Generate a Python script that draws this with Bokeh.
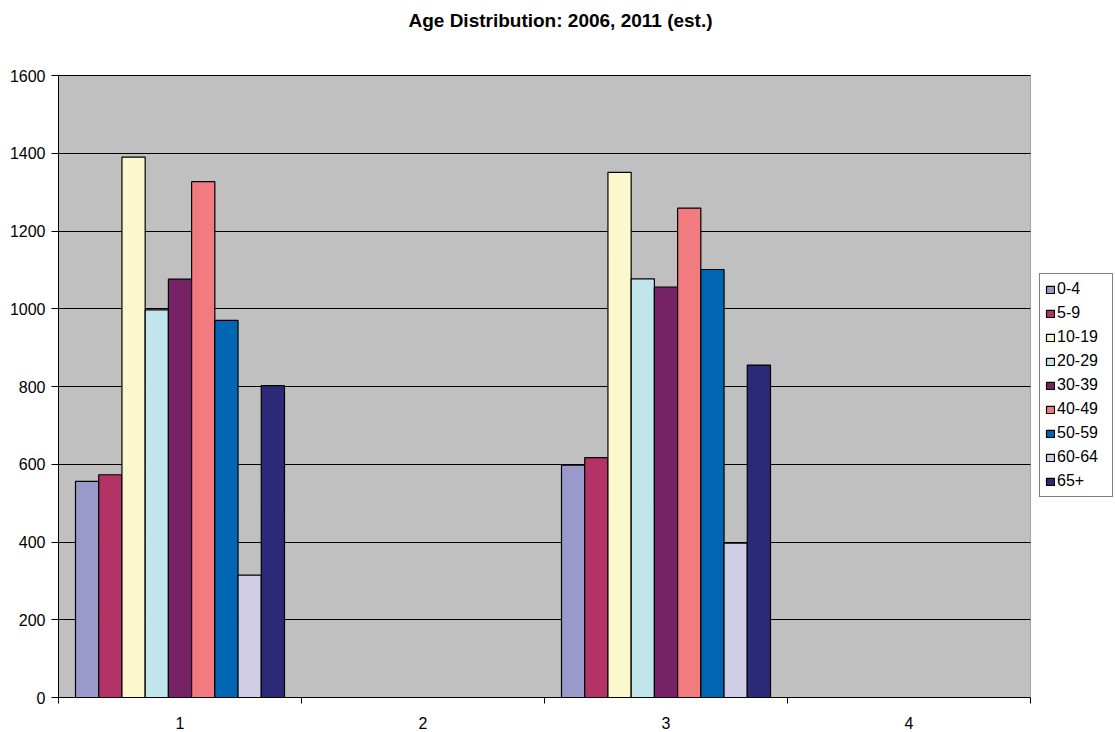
from bokeh.plotting import figure
from bokeh.models import (Range1d, FixedTicker, Legend, LegendItem, ColumnDataSource,
                          BoxAnnotation, Label)
from bokeh.transform import dodge
from bokeh.embed import file_html
from bokeh.resources import INLINE

# Category slots on the x axis (2 and 4 carry no data)
categories = [1, 2, 3, 4]
populated = [1, 3]

age_groups = ["0-4", "5-9", "10-19", "20-29", "30-39", "40-49", "50-59", "60-64", "65+"]
values_cat1 = [556, 573, 1390, 997, 1076, 1327, 970, 315, 802]
values_cat3 = [598, 617, 1351, 1077, 1056, 1259, 1101, 397, 855]

colors = ["#9999CC", "#B33366", "#FBF8CE", "#C0E6EC", "#772266",
          "#F27B80", "#0066B3", "#D0CDE6", "#2A2A78"]

y_ticks = [0, 200, 400, 600, 800, 1000, 1200, 1400, 1600]
title_text = "Age Distribution: 2006, 2011 (est.)"

FONT = "Liberation Sans"

# Plot area spans x 0.5..4.5 and y 0..1600; the canvas around it (title band on
# top, legend column on the right) is part of the same frame so that nothing is clipped.
X0, X1 = 0.5, 4.5
Y0, Y1 = 0, 1600
AREA_W, AREA_H = 972, 622
FRAME_W, FRAME_H = 1057, 697
x_end = X0 + (X1 - X0) * FRAME_W / AREA_W
y_end = Y0 + (Y1 - Y0) * FRAME_H / AREA_H

p = figure(frame_width=FRAME_W, frame_height=FRAME_H, output_backend="svg",
           toolbar_location=None, title=None,
           x_range=Range1d(X0, x_end), y_range=Range1d(Y0, y_end),
           min_border_left=58, min_border_right=0, min_border_top=0,
           min_border_bottom=35, background_fill_color="white",
           border_fill_color="white", outline_line_color=None)

# Gray plot area
p.add_layout(BoxAnnotation(left=X0, right=X1, bottom=Y0, top=Y1, fill_color="#C0C0C0",
                           fill_alpha=1.0, line_color=None, level="image"))

p.xgrid.grid_line_color = None
p.ygrid.ticker = FixedTicker(ticks=y_ticks)
p.ygrid.grid_line_color = "black"
p.ygrid.grid_line_width = 1

# Keep gridlines inside the plot area
p.add_layout(BoxAnnotation(left=X1, fill_color="white", fill_alpha=1.0,
                           line_color=None, level="underlay"))
# Plot area border
p.add_layout(BoxAnnotation(left=X0, right=X1, bottom=Y0, top=Y1, fill_alpha=0,
                           line_color="black", line_width=1, level="underlay"))

n = len(age_groups)
group_width = 0.86
bar_w = group_width / n

renderers = []
for i, (grp, col) in enumerate(zip(age_groups, colors)):
    src = ColumnDataSource(dict(x=populated, top=[values_cat1[i], values_cat3[i]]))
    offset = -group_width / 2 + bar_w * (i + 0.5)
    r = p.vbar(x=dodge("x", offset), top="top", bottom=0, width=bar_w, source=src,
               fill_color=col, line_color="black", line_width=1.2)
    renderers.append(r)

# Axes
p.xaxis.bounds = (X0, X1)
p.xaxis.ticker = FixedTicker(ticks=categories, minor_ticks=[0.5, 1.5, 2.5, 3.5, 4.5])
p.xaxis.major_tick_out = 0
p.xaxis.major_tick_in = 0
p.xaxis.minor_tick_out = 6
p.xaxis.minor_tick_in = 0
p.xaxis.minor_tick_line_color = "black"
p.xaxis.major_label_standoff = 13
p.xaxis.axis_line_color = "black"

p.yaxis.bounds = (Y0, Y1)
p.yaxis.ticker = FixedTicker(ticks=y_ticks)
p.yaxis.major_tick_out = 7
p.yaxis.major_tick_in = 0
p.yaxis.minor_tick_line_color = None
p.yaxis.major_label_standoff = 6
p.yaxis.axis_line_color = "black"

for ax in (p.xaxis, p.yaxis):
    ax.major_label_text_font = FONT
    ax.major_label_text_font_size = "16px"
    ax.major_label_text_color = "black"
    ax.major_tick_line_color = "black"

# Title
p.add_layout(Label(x=502, y=677, x_units="screen", y_units="screen", text=title_text,
                   text_align="center", text_baseline="middle", text_font=FONT,
                   text_font_size="19px", text_font_style="bold", text_color="black"))

legend = Legend(items=[LegendItem(label=g, renderers=[r]) for g, r in zip(age_groups, renderers)],
                location=(981, 200), label_text_font=FONT, label_text_font_size="16px",
                label_text_color="black", label_width=50,
                glyph_width=10, glyph_height=9, label_height=20, spacing=4,
                padding=5, margin=0, label_standoff=2,
                border_line_color="black", border_line_width=1,
                background_fill_color="white", background_fill_alpha=1.0)
p.add_layout(legend, "center")

open("out.html", "w").write(file_html(p, INLINE))
